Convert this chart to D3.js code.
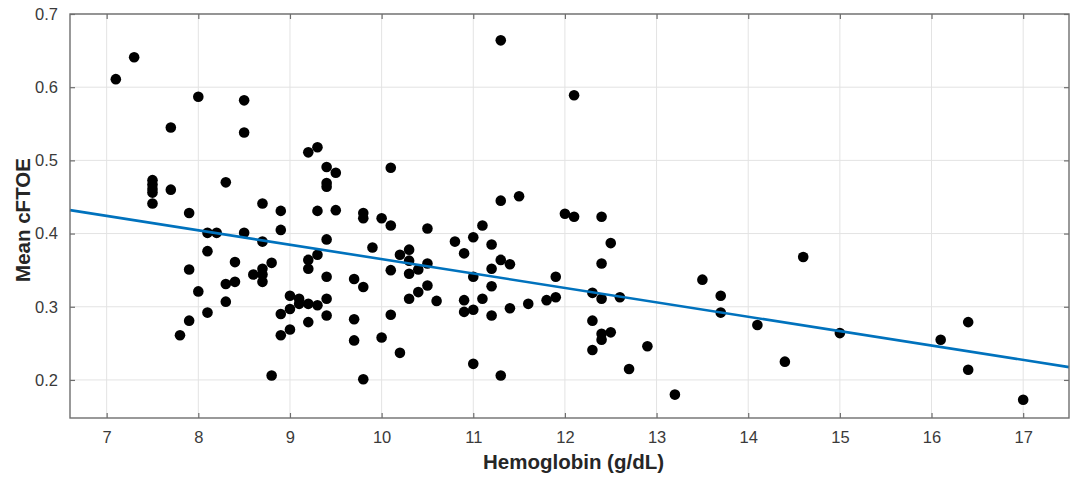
<!DOCTYPE html>
<html>
<head>
<meta charset="utf-8">
<script src="https://cdn.jsdelivr.net/npm/d3@7"></script>
<style>
  html, body { margin: 0; padding: 0; background: #fff; }
  svg { display: block; font-family: "Liberation Sans", Arial, Helvetica, sans-serif; }
</style>
</head>
<body>
<svg id="chart" width="1074" height="481"></svg>
<script>
// Hemoglobin (g/dL) values of each patient
const hemoglobin = [
  7.1, 7.3, 7.5, 7.5, 7.5, 7.5, 7.5, 7.7, 7.7, 7.8, 7.9, 7.9, 7.9, 8.0, 8.0,
  8.1, 8.1, 8.1, 8.2, 8.3, 8.3, 8.3, 8.4, 8.4, 8.5, 8.5, 8.5, 8.6,
  8.7, 8.7, 8.7, 8.7, 8.7, 8.8, 8.8, 8.9, 8.9, 8.9, 8.9, 9.0, 9.0, 9.0, 9.1, 9.1,
  9.2, 9.2, 9.2, 9.2, 9.2, 9.3, 9.3, 9.3, 9.3, 9.4, 9.4, 9.4, 9.4, 9.4, 9.4, 9.4,
  9.5, 9.5, 9.7, 9.7, 9.7, 9.8, 9.8, 9.8, 9.8, 9.9, 10.0, 10.0,
  10.1, 10.1, 10.1, 10.1, 10.2, 10.2, 10.3, 10.3, 10.3, 10.3, 10.4, 10.4,
  10.5, 10.5, 10.5, 10.6, 10.8, 10.9, 10.9, 10.9, 11.0, 11.0, 11.0, 11.0,
  11.1, 11.1, 11.2, 11.2, 11.2, 11.2, 11.3, 11.3, 11.3, 11.3, 11.4, 11.4,
  11.5, 11.6, 11.8, 11.9, 11.9, 12.0, 12.1, 12.1, 12.3, 12.3, 12.3,
  12.4, 12.4, 12.4, 12.4, 12.4, 12.5, 12.5, 12.6, 12.7, 12.9, 13.2, 13.5,
  13.7, 13.7, 14.1, 14.4, 14.6, 15.0, 16.1, 16.4, 16.4, 17.0
];
// Mean cFTOE of each patient (same order)
const meanCFTOE = [
  0.611, 0.641, 0.473, 0.467, 0.461, 0.456, 0.441, 0.545, 0.460, 0.261, 0.428, 0.351, 0.281, 0.587, 0.321,
  0.401, 0.376, 0.292, 0.401, 0.470, 0.331, 0.307, 0.361, 0.334, 0.582, 0.538, 0.401, 0.344,
  0.441, 0.389, 0.352, 0.344, 0.334, 0.360, 0.206, 0.431, 0.405, 0.290, 0.261, 0.315, 0.297, 0.269, 0.311, 0.304,
  0.511, 0.364, 0.352, 0.304, 0.279, 0.518, 0.431, 0.371, 0.302, 0.491, 0.469, 0.464, 0.392, 0.341, 0.311, 0.288,
  0.483, 0.432, 0.338, 0.283, 0.254, 0.428, 0.421, 0.327, 0.201, 0.381, 0.421, 0.258,
  0.490, 0.411, 0.350, 0.289, 0.371, 0.237, 0.378, 0.363, 0.345, 0.311, 0.351, 0.320,
  0.407, 0.359, 0.329, 0.308, 0.389, 0.373, 0.309, 0.293, 0.395, 0.341, 0.296, 0.222,
  0.411, 0.311, 0.385, 0.352, 0.328, 0.288, 0.664, 0.445, 0.364, 0.206, 0.358, 0.298,
  0.451, 0.304, 0.309, 0.341, 0.313, 0.427, 0.589, 0.423, 0.319, 0.281, 0.241,
  0.423, 0.359, 0.311, 0.263, 0.255, 0.387, 0.265, 0.313, 0.215, 0.246, 0.180, 0.337,
  0.315, 0.292, 0.275, 0.225, 0.368, 0.264, 0.255, 0.279, 0.214, 0.173
];
// Linear fit endpoints (at the axis limits)
const fitX = [6.6, 17.5];
const fitY = [0.432, 0.2175];

const xTicks = [7, 8, 9, 10, 11, 12, 13, 14, 15, 16, 17];
const yTicks = [0.2, 0.3, 0.4, 0.5, 0.6, 0.7];
const xDomain = [6.6, 17.5];
const yDomain = [0.148, 0.7];

const svg = d3.select("#chart");
const m = { left: 70, top: 14, right: 1069, bottom: 418 };
const x = d3.scaleLinear().domain(xDomain).range([m.left, m.right]);
const y = d3.scaleLinear().domain(yDomain).range([m.bottom, m.top]);
const W = m.right - m.left, H = m.bottom - m.top;

// grid
const grid = svg.append("g");
grid.selectAll("line.gx").data(xTicks).join("line")
  .attr("x1", d => x(d)).attr("x2", d => x(d))
  .attr("y1", m.top).attr("y2", m.bottom)
  .attr("stroke", "#e3e3e3").attr("stroke-width", 1);
grid.selectAll("line.gy").data(yTicks).join("line")
  .attr("y1", d => y(d)).attr("y2", d => y(d))
  .attr("x1", m.left).attr("x2", m.right)
  .attr("stroke", "#e3e3e3").attr("stroke-width", 1);

// axes (ticks inward, all sides)
const axColor = "#6e6e6e";
function styleAxis(g) {
  g.select(".domain").remove();
  g.selectAll(".tick line").attr("stroke", axColor).attr("stroke-width", 1.2);
  g.selectAll(".tick text").attr("fill", "#3a3a3a")
    .style("font-size", "16.5px")
    .style("font-family", "'Liberation Sans', Arial, Helvetica, sans-serif");
}
svg.append("g").attr("transform", `translate(0,${m.bottom})`)
  .call(d3.axisBottom(x).tickValues(xTicks).tickFormat(d3.format("d")).tickSizeInner(-5).tickSizeOuter(0).tickPadding(13))
  .call(styleAxis);
svg.append("g").attr("transform", `translate(0,${m.top})`)
  .call(d3.axisTop(x).tickValues(xTicks).tickFormat("").tickSizeInner(-5).tickSizeOuter(0))
  .call(styleAxis);
svg.append("g").attr("transform", `translate(${m.left},0)`)
  .call(d3.axisLeft(y).tickValues(yTicks).tickFormat(d3.format(".1f")).tickSizeInner(-5).tickSizeOuter(0).tickPadding(12))
  .call(styleAxis);
svg.append("g").attr("transform", `translate(${m.right},0)`)
  .call(d3.axisRight(y).tickValues(yTicks).tickFormat("").tickSizeInner(-5).tickSizeOuter(0))
  .call(styleAxis);

// points
const pts = hemoglobin.map((h, i) => ({ h, v: meanCFTOE[i] }));
svg.append("g").selectAll("circle").data(pts).join("circle")
  .attr("cx", d => x(d.h)).attr("cy", d => y(d.v))
  .attr("r", 5.3).attr("fill", "#000");

// fit line
const fit = fitX.map((fx, i) => [fx, fitY[i]]);
svg.append("path").datum(fit)
  .attr("d", d3.line().x(d => x(d[0])).y(d => y(d[1])))
  .attr("fill", "none").attr("stroke", "#0072BD").attr("stroke-width", 2.6);

// box
svg.append("rect").attr("x", m.left).attr("y", m.top).attr("width", W).attr("height", H)
  .attr("fill", "none").attr("stroke", axColor).attr("stroke-width", 1.4);

// labels
svg.append("text").attr("x", (m.left + m.right) / 2 + 4).attr("y", 469)
  .attr("text-anchor", "middle").attr("font-weight", "bold").attr("font-size", 20.5)
  .attr("fill", "#262626").text("Hemoglobin (g/dL)");
svg.append("text").attr("transform", `translate(30,${(m.top + m.bottom) / 2 + 4}) rotate(-90)`)
  .attr("text-anchor", "middle").attr("font-weight", "bold").attr("font-size", 20.5)
  .attr("fill", "#262626").text("Mean cFTOE");
</script>
</body>
</html>
